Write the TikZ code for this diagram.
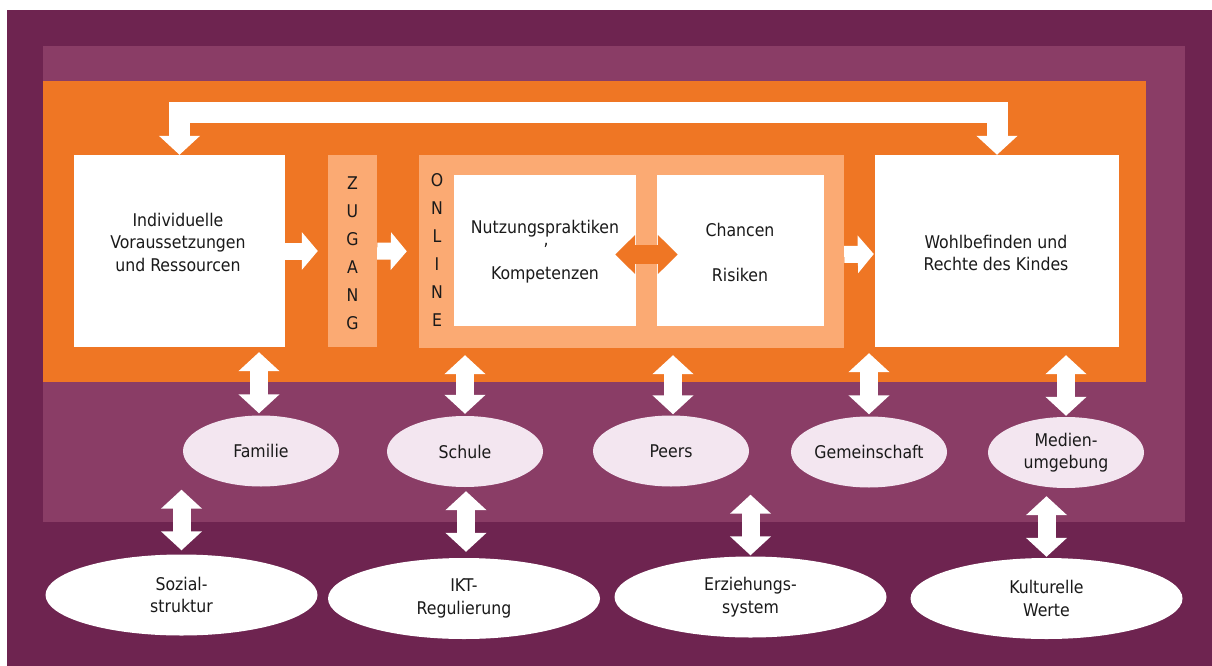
\documentclass[tikz,border=0pt]{standalone}
\usepackage{fontspec}
\setmainfont{DejaVu Sans Condensed}
\usepackage{xcolor}
\usetikzlibrary{arrows.meta,shapes.geometric}
\definecolor{darkpurple}{RGB}{110,36,80}
\definecolor{midpurple}{RGB}{138,61,102}
\definecolor{mainorange}{RGB}{239,118,36}
\definecolor{lightorange}{RGB}{251,170,115}
\definecolor{lightpink}{RGB}{243,230,240}
\definecolor{txtgray}{RGB}{26,26,26}

\begin{document}
\begin{tikzpicture}[x=1pt,y=-1pt,
	box/.style={fill=white,inner sep=0pt},
	band/.style={fill=lightorange,inner sep=0pt},
	lbl/.style={text=txtgray,font=\fontsize{17.5}{22.5}\selectfont,align=center,inner sep=0pt},
	letters/.style={text=txtgray,font=\fontsize{17.5}{28}\selectfont,align=center,inner sep=0pt},
	inner/.style={ellipse,fill=lightpink,minimum width=156pt,minimum height=71pt,inner sep=0pt,
		text=txtgray,font=\fontsize{17.5}{22.5}\selectfont,align=center},
	outer/.style={ellipse,fill=white,minimum width=272pt,minimum height=81pt,inner sep=0pt,
		text=txtgray,font=\fontsize{17.5}{22.5}\selectfont,align=center},
	updown/.style={white,line width=18pt,
		{Triangle[length=19pt,width=40pt]}-{Triangle[length=19pt,width=40pt]}},
	right/.style={white,line width=17pt,-{Triangle[length=16pt,width=37pt]}}]
	\useasboundingbox (0,0) rectangle (1212,666);
	% frames
	\fill [darkpurple] (7,10) rectangle (1212,666);
	\fill [midpurple] (43,46) rectangle (1185,522);
	\fill [mainorange] (43,81) rectangle (1146,382);
	% boxes
	\node [box,minimum width=211pt,minimum height=192pt] (leftbox) at (179.5,251) {};
	\node [band,minimum width=49pt,minimum height=192pt] (zugang) at (352.5,251) {};
	\node [band,minimum width=425pt,minimum height=193pt] (online) at (631.5,251.5) {};
	\node [box,minimum width=182pt,minimum height=151pt] (nutz) at (545,250.5) {};
	\node [box,minimum width=167pt,minimum height=151pt] (chan) at (740.5,250.5) {};
	\node [box,minimum width=244pt,minimum height=192pt] (wohl) at (997,251) {};
	\node [lbl] (leftlbl) at (178,242) {Individuelle\\Voraussetzungen\\und Ressourcen};
	\node [letters] (zuglbl) at (352.5,253) {Z\\U\\G\\A\\N\\G};
	\node [letters] (onllbl) at (437,250) {O\\N\\L\\I\\N\\E};
	\node [lbl] (nutzlbl) at (545,229) {Nutzungspraktiken};
	\node [lbl] (komma) at (546,245.5) {,};
	\node [lbl] (komplbl) at (545,275) {Kompetenzen};
	\node [lbl] (chanlbl) at (740,230) {Chancen};
	\node [lbl] (risklbl) at (740,275) {Risiken};
	\node [lbl] (wohllbl) at (996,253) {Wohlbefinden und\\Rechte des Kindes};
	% ellipses
	\node [inner] (famil) at (261,451) {Familie};
	\node [inner] (schule) at (465,451.5) {Schule};
	\node [inner] (peers) at (671,451) {Peers};
	\node [inner] (gemein) at (869,452) {Gemeinschaft};
	\node [inner] (medien) at (1066,452.5) {Medien-\\umgebung};
	\node [outer] (sozial) at (181.5,595) {Sozial-\\struktur};
	\node [outer] (ikt) at (464,598.5) {IKT-\\Regulierung};
	\node [outer] (erz) at (750.5,597) {Erziehungs-\\system};
	\node [outer] (kult) at (1046.5,598.5) {Kulturelle\\Werte};
	% arrows
	\draw [updown,line width=21pt,line join=miter] (leftbox.north) -- ([yshift=42.5pt]leftbox.north) -| (wohl.north);
	\draw [right,shorten >=10pt] (leftbox.east) -- (zugang.west);
	\draw [right,shorten >=12pt] (zugang.east) -- (online.west);
	\draw [right,shorten >=1pt] ([yshift=-3pt]online.east) -- ([yshift=-3pt]wohl.west);
	\draw [mainorange,line width=19pt,
		{Triangle[length=20pt,width=38pt]}-{Triangle[length=20pt,width=38pt]}]
		([xshift=-21pt,yshift=-4pt]nutz.east) -- ([xshift=21pt,yshift=-4pt]chan.west);
	\draw [updown,shorten <=2pt,shorten >=5pt] ([xshift=-2pt]famil.north) -- ([xshift=-2pt]famil.north |- leftbox.south);
	\draw [updown,shorten <=2pt,shorten >=7pt] (schule.north) -- (schule.north |- online.south);
	\draw [updown,shorten <=1pt,shorten >=7pt] ([xshift=2pt]peers.north) -- ([xshift=2pt]peers.north |- online.south);
	\draw [updown,shorten <=2pt,shorten >=6pt] (gemein.north) -- (gemein.north |- wohl.south);
	\draw [updown,shorten <=1pt,shorten >=8pt] (medien.north) -- (medien.north |- wohl.south);
	\draw [updown,shorten <=4pt,shorten >=3pt] (sozial.north) -- (sozial.north |- famil.south);
	\draw [updown,shorten <=6pt,shorten >=4pt] ([xshift=2pt]ikt.north) -- ([xshift=2pt]ikt.north |- schule.south);
	\draw [updown,shorten <=1pt,shorten >=8pt] (erz.north) -- (erz.north |- peers.south);
	\draw [updown,shorten <=1pt,shorten >=8pt] (kult.north) -- (kult.north |- medien.south);
\end{tikzpicture}
\end{document}
